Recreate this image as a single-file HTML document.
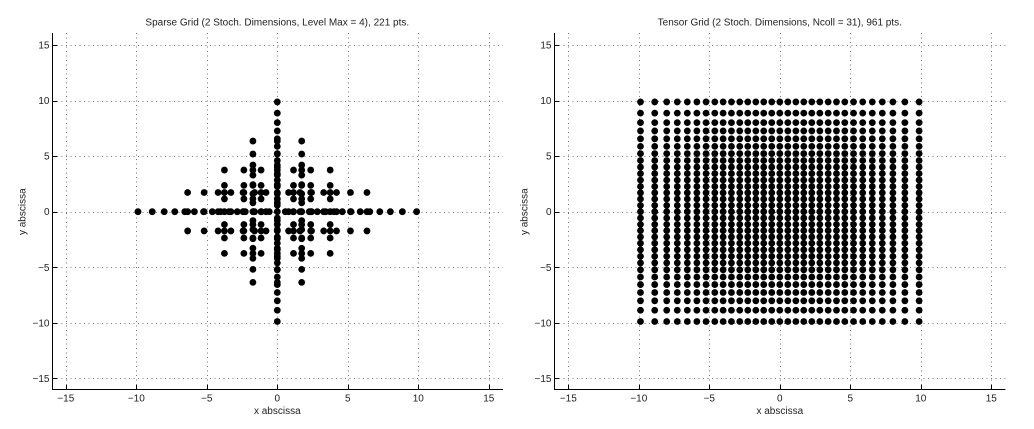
<!DOCTYPE html>
<html lang="en">
<head>
<meta charset="utf-8">
<title>Sparse and Tensor Grids</title>
<style>
html,body{margin:0;padding:0;background:#fff;}
#figure{display:block;width:1034px;height:429px;}
text{font-family:"Liberation Sans",Arial,sans-serif;fill:#222;}
.tick-text{font-size:10px;}
.title-text,.axis-text{font-size:10px;}
</style>
</head>
<body>
<svg id="figure" xmlns="http://www.w3.org/2000/svg" width="1034" height="429" viewBox="0 0 1034 429">
  <rect width="1034" height="429" fill="#fff"/>
  <g id="left-chart"></g>
  <g id="right-chart"></g>
</svg>
<script>
// ---- chart data ----
const axisTicks = [-15, -10, -5, 0, 5, 10, 15];
const axisLimits = [-16, 16];

const sparseTitle = 'Sparse Grid (2 Stoch. Dimensions, Level Max = 4), 221 pts.';
const tensorTitle = 'Tensor Grid (2 Stoch. Dimensions, Ncoll = 31), 961 pts.';
const xAxisLabel = 'x abscissa';
const yAxisLabel = 'y abscissa';

// one-dimensional collocation nodes for each level
const nodesLevel0 = [0];
const nodesLevel1 = [-1.73, 1.73];
const nodesLevel2 = [-3.75, -2.37, -1.15, 1.15, 2.37, 3.75];
const nodesLevel3 = [-6.36, -5.19, -4.20, -3.29, -2.43, -1.61, -0.80, 0.80, 1.61, 2.43, 3.29, 4.20, 5.19, 6.36];
const nodesLevel4 = [-9.88, -8.87, -8.02, -7.27, -6.56, -5.88, -5.23, -4.61, -4.02, -3.43, -2.84, -2.27, -1.70, -1.14, -0.57,
  0, 0.57, 1.14, 1.70, 2.27, 2.84, 3.43, 4.02, 4.61, 5.23, 5.88, 6.56, 7.27, 8.02, 8.87, 9.88];

// which level pairs (x level, y level) form the sparse grid
const sparseXLevels = [4, 3, 2, 1, 0, 0, 0, 0, 1, 3, 2, 1, 2];
const sparseYLevels = [0, 0, 0, 0, 4, 3, 2, 1, 3, 1, 2, 2, 1];

const levelNodes = [nodesLevel0, nodesLevel1, nodesLevel2, nodesLevel3, nodesLevel4];
const tensorNodes = nodesLevel4;

// ---- drawing ----
const NS = 'http://www.w3.org/2000/svg';

function svgEl(parent, tag, attrs) {
  const el = document.createElementNS(NS, tag);
  for (const k in attrs) el.setAttribute(k, attrs[k]);
  parent.appendChild(el);
  return el;
}

function drawChart(rootId, origin, title, pointsX, pointsY) {
  const root = document.getElementById(rootId);
  const pxPerX = 14.1;
  const pxPerY = 11.11;
  const yZero = 211.7;
  const sx = v => origin + v * pxPerX;
  const sy = v => yZero - v * pxPerY;
  const left = sx(axisLimits[0]);
  const right = sx(axisLimits[1]);
  const top = sy(axisLimits[1]);
  const bottom = sy(axisLimits[0]);
  const axisX = Math.round(left) + 0.5;
  const axisY = Math.round(bottom) + 0.5;

  const grid = svgEl(root, 'g', {});
  
  
  axisTicks.forEach(t => {
    const vx = Math.round(sx(t)) + 0.5;
    const v = svgEl(grid, 'line', {x1: vx, x2: vx, y1: axisY, y2: top - 1, stroke: '#777', 'stroke-width': 1, 'stroke-dasharray': '1 3.5'});
    
    
    const hy = Math.round(sy(t)) + 0.5;
    const h = svgEl(grid, 'line', {x1: axisX, x2: right, y1: hy, y2: hy, stroke: '#777', 'stroke-width': 1, 'stroke-dasharray': '1 3.5'});
    
    
  });

  const marks = svgEl(root, 'g', {});
  
  
  pointsX.forEach((px, i) => {
    const c = svgEl(marks, 'circle', {cx: sx(px).toFixed(2), cy: sy(pointsY[i]).toFixed(2), r: 3.4, fill: '#000'});
    
    
  });

  const axes = svgEl(root, 'g', {});
  
  
  const xLine = svgEl(axes, 'line', {x1: axisX - 0.5, x2: right, y1: axisY, y2: axisY, stroke: '#000', 'stroke-width': 1});
  
  
  const yLine = svgEl(axes, 'line', {x1: axisX, x2: axisX, y1: top - 1, y2: axisY, stroke: '#000', 'stroke-width': 1});
  
  

  const label = t => (t < 0 ? '\u2212' + Math.abs(t) : String(t));
  axisTicks.forEach(t => {
    const vx = Math.round(sx(t)) + 0.5;
    const xt = svgEl(axes, 'line', {x1: vx, x2: vx, y1: axisY, y2: axisY - 4.5, stroke: '#000', 'stroke-width': 1});
    
    
    const xl = svgEl(axes, 'text', {x: sx(t), y: 401.5, 'text-anchor': 'middle', class: 'tick-text'});
    xl.textContent = label(t);
    
    

    const hy = Math.round(sy(t)) + 0.5;
    const yt = svgEl(axes, 'line', {x1: axisX, x2: axisX + 4.5, y1: hy, y2: hy, stroke: '#000', 'stroke-width': 1});
    
    
    const yl = svgEl(axes, 'text', {x: axisX - 3, y: sy(t) + 3.5, 'text-anchor': 'end', class: 'tick-text'});
    yl.textContent = label(t);
    
    
  });

  const titleEl = svgEl(root, 'text', {x: origin, y: 25.5, 'text-anchor': 'middle', class: 'title-text'});
  titleEl.textContent = title;
  
  

  const xTitle = svgEl(root, 'text', {x: origin, y: 414, 'text-anchor': 'middle', class: 'axis-text'});
  xTitle.textContent = xAxisLabel;
  
  

  const yTitleX = axisX - 27;
  const yTitle = svgEl(root, 'text', {x: yTitleX, y: yZero, 'text-anchor': 'middle', class: 'axis-text', transform: 'rotate(-90 ' + yTitleX + ' ' + yZero + ')'});
  yTitle.textContent = yAxisLabel;
  
  
}

// sparse grid: union of the tensor products of the listed level pairs
const sparseX = [];
const sparseY = [];
const seen = new Set();
sparseXLevels.forEach((lx, i) => {
  levelNodes[lx].forEach(x => {
    levelNodes[sparseYLevels[i]].forEach(y => {
      const key = x + ',' + y;
      if (!seen.has(key)) {
        seen.add(key);
        sparseX.push(x);
        sparseY.push(y);
      }
    });
  });
});

// tensor grid: every node pair
const tensorX = [];
const tensorY = [];
tensorNodes.forEach(x => {
  tensorNodes.forEach(y => {
    tensorX.push(x);
    tensorY.push(y);
  });
});

drawChart('left-chart', 277.3, sparseTitle, sparseX, sparseY);
drawChart('right-chart', 779.8, tensorTitle, tensorX, tensorY);
</script>
</body>
</html>
